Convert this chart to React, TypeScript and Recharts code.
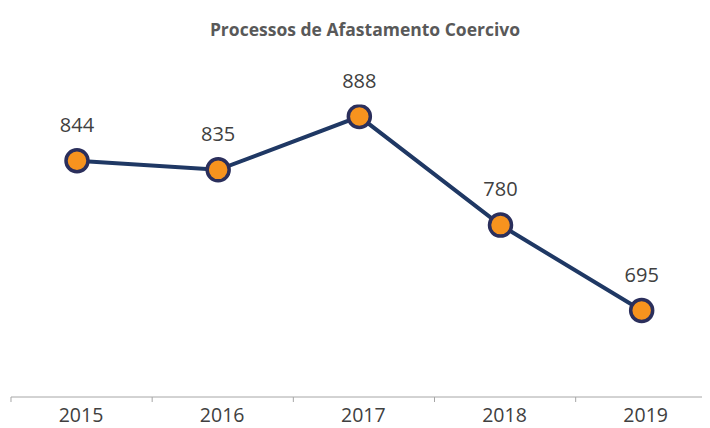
import { LineChart, Line, XAxis, YAxis, LabelList } from "recharts";

const years = ["2015", "2016", "2017", "2018", "2019"];
const processos = [844, 835, 888, 780, 695];

const data = years.map((year, i) => ({ idx: i, year, value: processos[i] }));

const TITLE = "Processos de Afastamento Coercivo";

function YearTick({ x, y, payload }: any) {
  const i = payload.value;
  const base = y - 8; // undo tickSize + tickMargin
  return (
    <g>
      <line x1={x - 66} x2={x - 66} y1={base} y2={base + 5} stroke="#A6A6A6" strokeWidth={1} />
      <text
        x={x + 4}
        y={base + 25}
        textAnchor="middle"
        fontSize={19.5}
        fontFamily="'Open Sans', sans-serif"
        fill="#404040"
      >
        {years[i]}
      </text>
    </g>
  );
}

function ValueLabel({ x, y, value }: any) {
  return (
    <text
      x={x}
      y={y - 29}
      textAnchor="middle"
      fontSize={20}
      fontFamily="'Open Sans', sans-serif"
      fill="#404040"
    >
      {value}
    </text>
  );
}

export default function App() {
  return (
    <div style={{ position: "relative", width: 702, height: 420 }}>
      <div
        style={{
          position: "absolute",
          top: 9,
          left: 0,
          width: 710,
          textAlign: "center",
          fontFamily: "'Open Sans', sans-serif",
          fontWeight: 700,
          fontSize: 17.5,
          lineHeight: "24px",
          color: "#595959",
          marginLeft: 2,
        }}
      >
        {TITLE}
      </div>
      <LineChart
        width={702}
        height={420}
        data={data}
        margin={{ top: 96.5, right: 0, bottom: 1, left: 3 }}
      >
        <XAxis
          dataKey="idx"
          type="number"
          domain={[-0.4675, 4.484]}
          allowDataOverflow
          ticks={[0, 1, 2, 3, 4]}
          interval={0}
          height={30}
          tickLine={false}
          axisLine={{ stroke: "#A6A6A6", strokeWidth: 1 }}
          tick={<YearTick />}
        />
        <YAxis hide domain={[609, 900]} allowDataOverflow />
        <Line
          dataKey="value"
          stroke="#1F3864"
          strokeWidth={4}
          isAnimationActive={false}
          dot={{ r: 11, fill: "#F7931E", stroke: "#2B2F5C", strokeWidth: 3.5 }}
          activeDot={false}
        >
          <LabelList dataKey="value" content={<ValueLabel />} />
        </Line>
      </LineChart>
    </div>
  );
}
